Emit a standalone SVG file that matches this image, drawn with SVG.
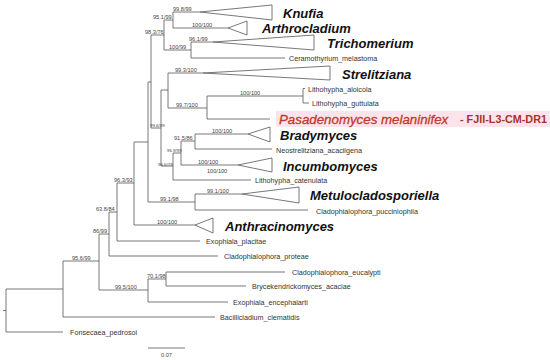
<svg xmlns="http://www.w3.org/2000/svg" width="550" height="360" viewBox="0 0 550 360">
<style>
.br{fill:none;stroke:#555;stroke-width:0.8}
.tri{fill:#fff;stroke:#555;stroke-width:0.8}
.bs{font-family:"Liberation Sans",Arial,sans-serif;font-size:5.6px;fill:#444}
.bss{font-family:"Liberation Sans",Arial,sans-serif;font-size:4.4px;fill:#444}
.lf{font-family:"Liberation Sans",Arial,sans-serif;font-size:7.2px;fill:#333}
.cl{font-family:"Liberation Sans",Arial,sans-serif;font-size:13px;font-weight:bold;font-style:italic;fill:#111}
</style>
<rect width="550" height="360" fill="#fff"/>
<g id="connectors">
<path class="br" d="M3,310.5H6 M6,289V332 M6,289H63 M6,332H63
M63,261V317 M63,261H99 M63,317H215
M99,234V290 M99,234H109 M99,290H148
M148,279V302 M148,279H166 M148,302H228
M166,272V286 M166,272H285 M166,286H246
M109,212V256 M109,212H117 M109,256H218
M117,183V241 M117,183H134 M117,241H200
M134,142V225 M134,142H148 M134,225H195
M148,82V202 M148,82H151 M148,202H195
M195,194V210 M195,194H242 M195,210H308
M151,35V128 M151,35H164 M151,128H161
M164,20V50 M164,20H173 M164,50H191
M173,12V28 M173,12H200 M173,28H228
M191,42V58 M191,42H213 M191,58H285
M161,90V166 M161,90H168 M161,166H173
M168,73V108 M168,73H203 M168,108H207
M207,96V119 M207,96H303 M207,119H270
M303,88.5V103 M303,88.5H305 M303,103H309
M173,153V180 M173,153H181 M173,180H251
M181,141V165 M181,141H195 M181,165H238
M195,134V149 M195,134H248 M195,149H272"/>
</g>
<g id="support">
<text class="bs" x="173" y="11">99.8/99</text>
<text class="bs" x="153" y="19">95.1/99</text>
<text class="bs" x="192" y="27">100/100</text>
<text class="bs" x="145" y="34">98.3/76</text>
<text class="bs" x="189" y="41">96.1/99</text>
<text class="bs" x="169" y="49">100/99</text>
<text class="bs" x="175" y="72">99.3/100</text>
<text class="bs" x="240" y="95">100/100</text>
<text class="bs" x="176" y="107">99.7/100</text>
<text class="bss" x="150" y="127">99.6/99</text>
<text class="bs" x="212" y="133">100/100</text>
<text class="bs" x="174" y="140">91.5/86</text>
<text class="bss" x="167" y="152">96.9/99</text>
<text class="bs" x="198" y="164">100/100</text>
<text class="bss" x="158" y="165.5">96.6/79</text>
<text class="bs" x="207" y="173">100/100</text>
<text class="bs" x="114" y="182">96.3/93</text>
<text class="bs" x="207" y="193">99.1/100</text>
<text class="bs" x="160" y="201">99.1/98</text>
<text class="bs" x="96" y="211">63.8/84</text>
<text class="bs" x="157" y="224">100/100</text>
<text class="bs" x="93" y="233">86/99</text>
<text class="bs" x="72" y="260">95.6/99</text>
<text class="bs" x="147" y="278">70.1/98</text>
<text class="bs" x="115" y="289">99.5/100</text>
</g>
<g id="knufia"><polygon class="tri" points="200,12 272,5 272,20"/><text class="cl" x="283" y="17.7">Knufia</text></g>
<g id="arthrocladium"><polygon class="tri" points="228,28 247,21 247,35"/><text class="cl" x="262" y="32.7">Arthrocladium</text></g>
<g id="trichomerium"><polygon class="tri" points="213,42 314,35 314,50"/><text class="cl" x="327" y="47.7">Trichomerium</text></g>
<g id="ceramothyrium"><text class="lf" x="289" y="60.6">Ceramothyrium_melastoma</text></g>
<g id="strelitziana"><polygon class="tri" points="203,73 330,66 330,80"/><text class="cl" x="342" y="78.7">Strelitziana</text></g>
<g id="lithohypha-aloicola"><text class="lf" x="308" y="91.6">Lithohypha_aloicola</text></g>
<g id="lithohypha-guttulata"><text class="lf" x="312" y="105.6">Lithohypha_guttulata</text></g>
<g id="pasadenomyces">
<rect x="276" y="111" width="274" height="16" fill="#fde4ec"/>
<text x="279" y="123.5" font-family="Liberation Sans, Arial, sans-serif" font-size="13.3" font-style="italic" fill="#c0392b" stroke="#c0392b" stroke-width="0.3">Pasadenomyces melaninifex</text>
<text x="460" y="123" font-family="Liberation Sans, Arial, sans-serif" font-size="10.8" font-weight="bold" fill="#a8322a">- FJII-L3-CM-DR1</text>
</g>
<g id="bradymyces"><polygon class="tri" points="248,134 270,127 270,142"/><text class="cl" x="280" y="139.7">Bradymyces</text></g>
<g id="neostrelitziana"><text class="lf" x="276" y="152.6">Neostrelitziana_acaciigena</text></g>
<g id="incumbomyces"><polygon class="tri" points="238,165 272,158 272,172"/><text class="cl" x="283" y="170.7">Incumbomyces</text></g>
<g id="lithohypha-catenulata"><text class="lf" x="255" y="182.6">Lithohypha_catenulata</text></g>
<g id="metulocladosporiella"><polygon class="tri" points="242,194 299,187 299,203"/><text class="cl" x="310" y="199.7">Metulocladosporiella</text></g>
<g id="pucciniophila"><text class="lf" x="316" y="213.6">Cladophialophora_pucciniophila</text></g>
<g id="anthracinomyces"><polygon class="tri" points="195,225 213,218 213,233"/><text class="cl" x="225" y="230.7">Anthracinomyces</text></g>
<g id="placitae"><text class="lf" x="206" y="243.6">Exophiala_placitae</text></g>
<g id="proteae"><text class="lf" x="224" y="258.6">Cladophialophora_proteae</text></g>
<g id="eucalypti"><text class="lf" x="292" y="274.6">Cladophialophora_eucalypti</text></g>
<g id="brycekendrickomyces"><text class="lf" x="252" y="288.6">Brycekendrickomyces_acaciae</text></g>
<g id="encephalarti"><text class="lf" x="233" y="304.6">Exophiala_encephalarti</text></g>
<g id="bacillicladium"><text class="lf" x="220" y="319.6">Bacillicladium_clematidis</text></g>
<g id="fonsecaea"><text class="lf" x="70" y="334.6">Fonsecaea_pedrosoi</text></g>
<g id="scale">
<path class="br" d="M148,348H185"/>
<text class="bs" x="166.5" y="357" text-anchor="middle">0.07</text>
</g>
</svg>
